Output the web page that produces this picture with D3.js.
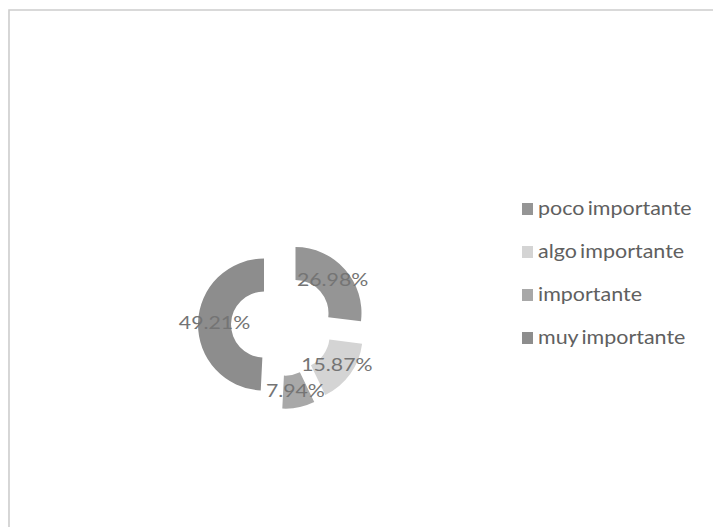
<!DOCTYPE html>
<html>
<head>
<meta charset="utf-8">
<script src="https://cdn.jsdelivr.net/npm/d3@7"></script>
<style>
  html, body { margin: 0; padding: 0; background: #fff; }
  svg { display: block; }
</style>
</head>
<body>
<svg id="chart" width="713" height="527"></svg>
<script>
// Importance ratings (share of answers, %)
const categories = ["poco importante", "algo importante", "importante", "muy importante"];
const values = [26.98, 15.87, 7.94, 49.21];
const colors = ["#959595", "#d4d4d4", "#a8a8a8", "#8d8d8d"];

const svg = d3.select("#chart");
const W = 713, H = 527;

// chart frame
svg.append("path")
  .attr("d", `M9,${H} L9,10 L${W},10`)
  .attr("fill", "none")
  .attr("stroke", "#cdcdcd")
  .attr("stroke-width", 1.6);

// exploded doughnut
const cx = 282, cy = 325;
const outerR = 66, innerR = 33, explode = 18;

const pie = d3.pie().sort(null).value(d => d.value).startAngle(0).endAngle(2 * Math.PI);
const arc = d3.arc().innerRadius(innerR).outerRadius(outerR);
const labelArc = d3.arc().innerRadius((innerR + outerR) / 2).outerRadius((innerR + outerR) / 2);

const data = categories.map((c, i) => ({ name: c, value: values[i], color: colors[i] }));
const arcs = pie(data);

const g = svg.append("g").attr("transform", `translate(${cx},${cy})`);

const slice = g.selectAll("g.slice")
  .data(arcs)
  .join("g")
  .attr("class", "slice")
  .attr("transform", d => {
    const a = (d.startAngle + d.endAngle) / 2;
    return `translate(${explode * Math.sin(a)},${-explode * Math.cos(a)})`;
  });

slice.append("path")
  .attr("d", arc)
  .attr("fill", d => d.data.color);

slice.append("text")
  .attr("transform", d => {
    const [x, y] = labelArc.centroid(d);
    return `translate(${x},${y}) scale(1.25,1)`;
  })
  .attr("text-anchor", "middle")
  .attr("dy", "0.36em")
  .attr("font-family", "Lato, 'Open Sans', sans-serif")
  .attr("font-size", 17)
  .attr("fill", "#747474")
  .text(d => d.data.value.toFixed(2) + "%");

// legend
const legend = svg.append("g").attr("transform", "translate(522,209)");
const rowH = 43;
const item = legend.selectAll("g")
  .data(data)
  .join("g")
  .attr("transform", (d, i) => `translate(0,${i * rowH})`);

item.append("rect")
  .attr("x", 0).attr("y", -6)
  .attr("width", 11).attr("height", 12)
  .attr("fill", d => d.color);

item.append("text")
  .attr("transform", "translate(16,0) scale(1.13,1)")
  .attr("dy", "0.33em")
  .attr("font-family", "Lato, 'Open Sans', sans-serif")
  .attr("font-size", 19)
  .attr("word-spacing", -2)
  .attr("fill", "#606060")
  .text(d => d.name);
</script>
</body>
</html>
